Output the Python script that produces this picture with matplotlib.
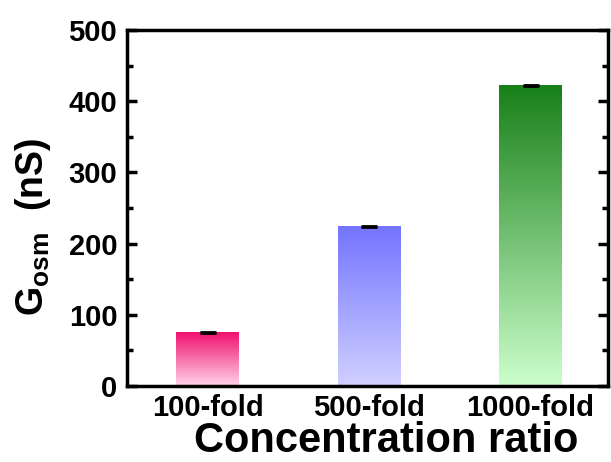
import numpy as np
import matplotlib.pyplot as plt
from matplotlib.colors import LinearSegmentedColormap
from matplotlib.ticker import MultipleLocator

plt.rcParams['font.family'] = ['Liberation Sans', 'DejaVu Sans']
plt.rcParams['font.weight'] = 'bold'
plt.rcParams['mathtext.fontset'] = 'custom'
plt.rcParams['mathtext.bf'] = 'Liberation Sans:bold'
plt.rcParams['mathtext.rm'] = 'Liberation Sans:bold'

categories = ['100-fold', '500-fold', '1000-fold']
values = [75, 224, 422]
errors = [1.2, 1.2, 1.2]
top_colors = ['#f0106e', '#7474ff', '#188018']
bottom_colors = ['#ffd4ea', '#d0d0ff', '#ccffcc']

fig = plt.figure(figsize=(6.11, 4.62), dpi=100)
ax = fig.add_axes([127 / 611, 1 - 386 / 462, 481 / 611, 356 / 462])

x = np.arange(1, len(categories) + 1)
width = 0.39
bars = ax.bar(x, values, width=width, color='none', edgecolor='none', zorder=2)

# vertical gradient for each bar
grad = np.linspace(0, 1, 256).reshape(-1, 1)
for bar, c0, c1 in zip(bars, bottom_colors, top_colors):
    cmap = LinearSegmentedColormap.from_list('g', [c0, c1])
    bx, by = bar.get_x(), bar.get_y()
    ax.imshow(grad, cmap=cmap, origin='lower', aspect='auto',
              extent=[bx, bx + bar.get_width(), by, by + bar.get_height()],
              zorder=2)

ax.errorbar(x, values, yerr=errors, fmt='none', ecolor='black',
            elinewidth=1.2, capsize=6, capthick=2, zorder=3)

ax.set_xlim(0.5, 3.48)
ax.set_ylim(0, 500)
ax.set_xticks(x)
ax.set_xticklabels(categories)
ax.yaxis.set_major_locator(MultipleLocator(100))
ax.yaxis.set_minor_locator(MultipleLocator(50))

for s in ax.spines.values():
    s.set_linewidth(2.5)

ax.tick_params(axis='y', which='both', direction='in', left=True, right=True,
               width=2.5, labelsize=21, pad=7)
ax.tick_params(axis='y', which='major', length=7)
ax.tick_params(axis='y', which='minor', length=4)
ax.tick_params(axis='x', length=0, labelsize=21, pad=6)

ax.set_ylabel(r'G$_{\mathbf{osm}}$  (nS)', fontsize=27, fontweight='bold')
ax.yaxis.set_label_coords(-0.154, 0.447)
ax.set_xlabel('Concentration ratio', fontsize=30, fontweight='bold')
ax.xaxis.set_label_coords(0.538, -0.185)
ax.xaxis.label.set_va('baseline')

fig.savefig('out.png', dpi=100)
